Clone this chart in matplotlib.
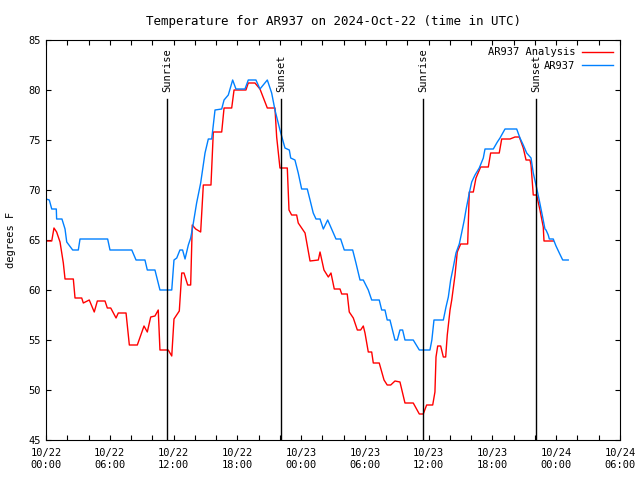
import matplotlib
matplotlib.use('Agg')
import matplotlib.pyplot as plt

# hours since 2024-10-22 00:00 UTC
analysis_hours = [0, 0.54, 0.75, 1.0, 1.32, 1.63, 1.79, 2.57, 2.73, 3.36, 3.51, 4.07, 4.54, 4.83,
                  5.55, 5.77, 6.09, 6.59, 6.80, 7.53, 7.84, 8.59, 9.22, 9.53, 9.85, 10.25, 10.56,
                  10.72, 11.5, 11.83, 12.04, 12.54, 12.77, 12.98, 13.33, 13.61, 13.76, 14.08, 14.55,
                  14.8, 15.52, 15.74, 16.53, 16.75, 17.47, 17.69, 18.81, 19.03, 19.66, 20.13, 20.82,
                  21.54, 21.70, 22.01, 22.70, 22.86, 23.11, 23.58, 23.73, 24.37, 24.84, 25.62, 25.78,
                  26.15, 26.56, 26.81, 27.12, 27.66, 27.82, 28.34, 28.53, 28.91, 29.29, 29.6, 29.85,
                  30.01, 30.32, 30.64, 30.79, 31.35, 31.8, 32.1, 32.43, 32.83, 33.3, 33.77, 34.55,
                  35.12, 35.49, 35.81, 36.38, 36.59, 36.69, 36.85, 37.13, 37.38, 37.6, 37.75, 38.01,
                  38.17, 38.48, 38.69, 39.01, 39.67, 39.82, 40.2, 40.45, 40.89, 41.61, 41.83, 42.64,
                  42.87, 43.65, 44.12, 44.53, 44.9, 45.16, 45.53, 45.63, 45.84, 46.16, 46.47, 46.78,
                  46.85, 47.72]
analysis_temp = [64.9, 64.9, 66.2, 65.8, 64.8, 62.7, 61.1, 61.1, 59.2, 59.2, 58.7, 59.0, 57.8, 58.9,
                 58.9, 58.2, 58.2, 57.2, 57.7, 57.7, 54.5, 54.5, 56.4, 55.8, 57.3, 57.4, 58.0,
                 54.0, 54.0, 53.4, 57.1, 57.9, 61.7, 61.7, 60.5, 60.5, 66.5, 66.1, 65.8,
                 70.5, 70.5, 75.8, 75.8, 78.2, 78.2, 80.0, 80.0, 80.7, 80.7, 80.1, 78.2,
                 78.2, 75.3, 72.2, 72.2, 68.0, 67.5, 67.5, 66.7, 65.7, 62.9, 63.0, 63.8,
                 62.0, 61.3, 61.7, 60.1, 60.1, 59.6, 59.6, 57.8, 57.2, 56.0, 56.0, 56.4,
                 55.7, 53.8, 53.8, 52.7, 52.7, 51.0, 50.5, 50.5, 50.9, 50.8, 48.7, 48.7,
                 47.6, 47.6, 48.5, 48.5, 49.8, 53.3, 54.4, 54.4, 53.3, 53.3, 55.5, 58.0,
                 59.0, 61.5, 63.8, 64.6, 64.6, 69.8, 69.8, 71.2, 72.3, 72.3, 73.7, 73.7,
                 75.1, 75.1, 75.3, 75.3, 74.2, 73.0, 73.0, 72.5, 69.5, 69.5, 68.0, 66.3,
                 64.9, 64.9]

station_hours = [0, 0.31, 0.54, 0.97, 1.0, 1.5, 1.79, 1.95, 2.51, 3.04, 3.2, 5.8, 6.02, 8.07, 8.47,
                 9.31, 9.53, 10.25, 10.72, 11.83, 12.04, 12.3, 12.6, 12.85, 13.08, 13.39, 13.61,
                 13.8, 14.17, 14.55, 14.96, 15.27, 15.59, 15.9, 16.53, 16.75, 17.15, 17.56, 17.87,
                 18.72, 19.03, 19.75, 20.13, 20.82, 21.23, 21.54, 22.01, 22.48, 22.89, 23.02, 23.42,
                 23.73, 24.05, 24.58, 24.84, 25.14, 25.4, 25.78, 26.09, 26.5, 26.87, 27.28, 27.72,
                 28.06, 28.85, 29.16, 29.54, 29.85, 30.32, 30.64, 31.35, 31.58, 31.89, 32.1, 32.36,
                 32.83, 33.05, 33.3, 33.55, 33.77, 34.55, 35.12, 36.12, 36.3, 36.5, 37.38, 37.63,
                 37.85, 38.07, 38.32, 38.57, 38.88, 39.1, 39.35, 39.51, 39.82, 40.05, 40.36, 40.76,
                 41.14, 41.3, 42.08, 42.46, 42.71, 43.18, 44.28, 44.59, 44.9, 45.22, 45.63, 45.84,
                 46.16, 46.4, 46.72, 46.94, 47.04, 47.25, 47.35, 47.72, 47.98, 48.29, 48.61, 49.13]
station_temp = [69.1, 69.0, 68.1, 68.1, 67.1, 67.1, 66.1, 64.8, 64.0, 64.0, 65.1, 65.1, 64.0, 64.0, 63.0,
                63.0, 62.0, 62.0, 60.0, 60.0, 63.0, 63.2, 64.0, 64.0, 63.1, 64.5, 65.2,
                66.3, 68.7, 70.7, 73.7, 75.1, 75.1, 78.0, 78.1, 79.0, 79.5, 81.0, 80.1,
                80.1, 81.0, 81.0, 80.1, 81.0, 79.7, 78.0, 76.0, 74.2, 74.0, 73.2, 73.0,
                71.7, 70.1, 70.1, 69.0, 67.7, 67.1, 67.1, 66.1, 67.0, 66.1, 65.1, 65.1,
                64.0, 64.0, 62.7, 61.0, 61.0, 60.0, 59.0, 59.0, 58.0, 58.0, 57.0, 57.0,
                55.0, 55.0, 56.0, 56.0, 55.0, 55.0, 54.0, 54.0, 55.0, 57.0, 57.0, 58.3,
                59.3, 61.0, 62.3, 63.7, 64.6, 65.7, 67.0, 68.0, 69.7, 70.8, 71.5, 72.2,
                73.2, 74.1, 74.1, 74.8, 75.2, 76.1, 76.1, 75.2, 74.5, 73.7, 73.2, 71.7,
                70.2, 69.0, 67.3, 66.1, 66.0, 65.5, 65.1, 65.1, 64.4, 63.7, 63.0, 63.0]

sun_hours = [11.41, 22.14, 35.49, 46.13]
sun_labels = ['Sunrise', 'Sunset', 'Sunrise', 'Sunset']

tick_hours = [0, 6, 12, 18, 24, 30, 36, 42, 48, 54]
tick_labels = ['10/22\n00:00', '10/22\n06:00', '10/22\n12:00', '10/22\n18:00', '10/23\n00:00',
               '10/23\n06:00', '10/23\n12:00', '10/23\n18:00', '10/24\n00:00', '10/24\n06:00']

plt.rcParams['font.family'] = 'DejaVu Sans Mono'
plt.rcParams['font.size'] = 7.5

fig = plt.figure(figsize=(6.4, 4.8), dpi=100)
ax = fig.add_axes([46 / 640, 40 / 480, 574 / 640, 400 / 480])

ax.plot(analysis_hours, analysis_temp, color='#ff0000', lw=1, label='AR937 Analysis')
ax.plot(station_hours, station_temp, color='#0080ff', lw=1, label='AR937')

for h, lab in zip(sun_hours, sun_labels):
    ax.plot([h, h], [45, 79.1], color='black', lw=1)
    ax.text(h, 79.8, lab, rotation=90, ha='center', va='bottom')

ax.set_xlim(0, 54)
ax.set_ylim(45, 85)
ax.set_xticks(tick_hours)
ax.set_xticklabels(tick_labels, linespacing=1.25)
ax.set_xticks(range(0, 55, 2), minor=True)
ax.set_yticks(range(45, 86, 5))
ax.tick_params(which='both', direction='in', top=True, right=True, length=3.5, width=0.8)
ax.tick_params(axis='x', pad=6)
for s in ax.spines.values():
    s.set_linewidth(0.8)

ax.set_ylabel('degrees F', labelpad=9)
ax.set_title('Temperature for AR937 on 2024-Oct-22 (time in UTC)', pad=11)

ax.legend(loc='upper right', frameon=False, markerfirst=False, handlelength=2.9,
          borderaxespad=0.5, labelspacing=0.35, handletextpad=0.7, borderpad=0.2)

fig.savefig('out.png', dpi=100)
